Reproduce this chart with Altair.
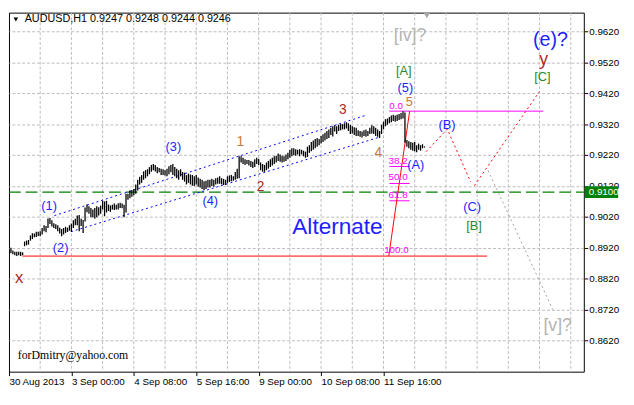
import altair as alt
import pandas as pd

# ---------------- data ----------------
# H1 bars, index 0 = 30 Aug 2013 16:00 ; prices in pips (1/10000)
bar_high = [8920, 8911, 8907, 8907, 8907, 8907, 8905, 8940, 8943, 8945,
            8960, 8967, 8966, 8972, 8972, 8973, 8984, 8993, 8990, 9015,
            9016, 9009, 8999, 8996, 8993, 8985, 8981, 8984, 8988, 8985,
            8993, 8998, 9009, 9014, 9024, 9026, 9014, 9010, 9050, 9060,
            9054, 9049, 9044, 9049, 9054, 9051, 9057, 9072, 9070, 9072,
            9060, 9057, 9059, 9063, 9059, 9064, 9066, 9063, 9059, 9095,
            9095, 9105, 9107, 9110, 9125, 9140, 9150, 9155, 9167, 9171,
            9174, 9181, 9188, 9191, 9188, 9181, 9178, 9176, 9174, 9171,
            9176, 9184, 9188, 9191, 9181, 9176, 9171, 9174, 9165, 9163,
            9155, 9160, 9157, 9155, 9151, 9155, 9147, 9143, 9140, 9135,
            9137, 9140, 9140, 9143, 9140, 9145, 9147, 9151, 9145, 9143,
            9140, 9151, 9154, 9155, 9151, 9165, 9176, 9216, 9216, 9211,
            9206, 9204, 9204, 9201, 9198, 9206, 9211, 9208, 9196, 9191,
            9188, 9196, 9201, 9206, 9211, 9216, 9218, 9225, 9222, 9218,
            9216, 9222, 9227, 9237, 9242, 9242, 9239, 9237, 9239, 9237,
            9234, 9231, 9247, 9252, 9262, 9267, 9272, 9275, 9272, 9282,
            9287, 9292, 9298, 9303, 9308, 9313, 9316, 9313, 9318, 9320,
            9320, 9323, 9326, 9323, 9318, 9313, 9310, 9308, 9300, 9298,
            9296, 9300, 9303, 9298, 9308, 9316, 9313, 9308, 9303, 9298,
            9318, 9328, 9336, 9338, 9343, 9348, 9350, 9348, 9350, 9353,
            9356, 9362, 9358, 9269, 9265, 9262, 9260, 9262, 9252, 9257,
            9252, 9255, 9248]
bar_low = [8902, 8899, 8896, 8893, 8896, 8893, 8896, 8925, 8928, 8930,
           8943, 8948, 8954, 8955, 8958, 8957, 8963, 8973, 8970, 8984,
           8997, 8989, 8984, 8981, 8973, 8966, 8957, 8963, 8968, 8971,
           8975, 8971, 8984, 8993, 8993, 8973, 8990, 8968, 9005, 9035,
           9030, 9019, 9019, 9014, 9019, 9024, 9030, 9044, 9022, 9034,
           9039, 9036, 9044, 9042, 9044, 9044, 9049, 9048, 9019, 9034,
           9075, 9080, 9085, 9090, 9095, 9105, 9125, 9130, 9140, 9145,
           9151, 9158, 9166, 9171, 9167, 9161, 9164, 9155, 9155, 9154,
           9151, 9158, 9164, 9155, 9151, 9145, 9140, 9151, 9140, 9134,
           9125, 9130, 9125, 9121, 9120, 9125, 9117, 9115, 9110, 9107,
           9110, 9115, 9115, 9120, 9117, 9125, 9127, 9127, 9125, 9123,
           9123, 9130, 9133, 9135, 9137, 9140, 9143, 9145, 9196, 9191,
           9188, 9191, 9186, 9181, 9178, 9181, 9191, 9188, 9171, 9166,
           9166, 9171, 9176, 9181, 9186, 9191, 9196, 9201, 9198, 9196,
           9198, 9201, 9206, 9211, 9216, 9220, 9218, 9222, 9216, 9222,
           9216, 9211, 9214, 9227, 9232, 9237, 9242, 9247, 9252, 9257,
           9262, 9267, 9272, 9275, 9285, 9280, 9296, 9288, 9298, 9300,
           9303, 9303, 9306, 9298, 9288, 9290, 9285, 9282, 9282, 9279,
           9277, 9282, 9279, 9282, 9288, 9290, 9288, 9282, 9279, 9275,
           9288, 9303, 9313, 9318, 9323, 9326, 9330, 9328, 9330, 9333,
           9336, 9338, 9260, 9247, 9242, 9237, 9234, 9232, 9229, 9237,
           9234, 9242, 9244]
bar_index = list(range(1, len(bar_high) + 1))

# axis ticks
x_tick_values = [0, 32, 64, 96, 128, 160, 192]
x_tick_labels = ["30 Aug 2013", "3 Sep 00:00", "4 Sep 08:00", "5 Sep 16:00",
                 "9 Sep 00:00", "10 Sep 08:00", "11 Sep 16:00"]
x_grid_values = [16, 32, 48, 64, 80, 96, 112, 128, 144, 160, 176, 192, 208,
                 224, 240, 256, 272, 288]
y_tick_values = [0.8620, 0.8720, 0.8820, 0.8920, 0.9020, 0.9120, 0.9220,
                 0.9320, 0.9420, 0.9520, 0.9620]

# line objects (bar index, price)
blue_channel = {"upper": [(23.3, 0.9024), (183.1, 0.9349)],
                "lower": [(31.8, 0.8972), (190.5, 0.9279)]}
red_dotted = {"ab": [(213.8, 0.9231), (224.7, 0.9304), (236.7, 0.9133)],
              "cy": [(238.6, 0.9121), (271.9, 0.9425)]}
gray_dotted = {"v": [(245.6, 0.9170), (278.8, 0.8720)]}
fib_diag = {"f": [(194.7, 0.8893), (205.4, 0.9362)]}
red_level = {"x": [(6.9, 0.8893), (245.1, 0.8893)]}
magenta_level = {"top": [(195.0, 0.9362), (273.9, 0.9362)],
                 "f382": [(195.0, 0.9183), (205.4, 0.9183)],
                 "f500": [(195.0, 0.9128), (205.4, 0.9128)],
                 "f618": [(195.0, 0.9072), (205.4, 0.9072)]}
green_level = 0.9100

fib_text = ["0.0", "38.2", "50.0", "61.8", "100.0"]
fib_text_x = [202.0, 204.4, 204.4, 204.4, 204.9]
fib_text_y = [0.9380, 0.9202, 0.9149, 0.9091, 0.8911]

BLUE = "#1e1eff"
ORANGE = "#c8783c"
DRED = "#b02828"
GREEN = "#2a8a2a"
GRAY = "#b4b4b4"
wave_text = ["(1)", "(2)", "(3)", "(4)", "1", "2", "3", "4", "5", "(5)", "[A]",
             "[iv]?", "(A)", "(B)", "(C)", "[B]", "(e)?", "y", "[C]", "[v]?",
             "x", "Alternate"]
wave_x = [20.6, 26.5, 84.3, 103.2, 118.6, 129.0, 171.2, 189.3, 205.2, 203.2,
          202.4, 205.6, 208.6, 224.5, 237.4, 238.4, 277.6, 274.1, 273.4, 281.3,
          5.2, 168.4]
wave_y = [0.9054, 0.8920, 0.9246, 0.9072, 0.9261, 0.9117, 0.9366, 0.9225,
          0.9390, 0.9436, 0.9492, 0.9606, 0.9187, 0.9317, 0.9051, 0.8989,
          0.9593, 0.9526, 0.9471, 0.8665, 0.8823, 0.8987]
wave_color = [BLUE, BLUE, BLUE, BLUE, ORANGE, DRED, DRED, ORANGE, ORANGE, BLUE,
              GREEN, GRAY, BLUE, BLUE, BLUE, GREEN, BLUE, DRED, GREEN, GRAY,
              DRED, BLUE]
wave_size = [13, 13, 13, 13, 14, 14, 14, 14, 13, 13, 13, 18, 13, 13, 13, 13,
             20, 18, 13, 18, 17, 23]

header = "AUDUSD,H1  0.9247 0.9248 0.9244 0.9246"
email = "forDmitry@yahoo.com"

# ---------------- chart ----------------
W, H = 586, 366
xs = alt.Scale(domain=[0, 294.7], nice=False, zero=False)
ys = alt.Scale(domain=[0.8519, 0.96808], nice=False, zero=False)
FONT = "Liberation Sans"

label_expr = " : ".join(
    f"datum.value == {v} ? '{t}'" for v, t in zip(x_tick_values, x_tick_labels)
) + " : ''"

XAX = alt.Axis(values=x_tick_values, labelExpr=label_expr, grid=False, title=None,
               labelAlign="left", labelOverlap=False, labelFlush=False,
               tickSize=4, tickColor="black", domain=False,
               labelFont=FONT, labelFontSize=10, labelColor="black",
               labelPadding=1)
YAX = alt.Axis(orient="right", values=y_tick_values, format=".4f", title=None,
               grid=True, gridColor="#bcbcbc", gridDash=[3, 2],
               tickSize=4, tickColor="black", domain=False,
               labelFont=FONT, labelFontSize=10, labelColor="black",
               labelPadding=1, labelBaseline="middle", labelOverlap=False)


def X(f):
    return alt.X(f, scale=xs, axis=XAX)


def Y(f):
    return alt.Y(f, scale=ys, axis=YAX)


def seg_df(d):
    rows = []
    for k, pts in d.items():
        for o, (x, y) in enumerate(pts):
            rows.append({"seg": k, "o": o, "x": x, "y": y})
    return pd.DataFrame(rows)


def lines(d, color, dash=None, width=1.0):
    kw = dict(color=color, strokeWidth=width)
    if dash:
        kw["strokeDash"] = dash
    return alt.Chart(seg_df(d)).mark_line(**kw).encode(
        x=X("x:Q"), y=Y("y:Q"), detail="seg:N", order="o:Q")


bars_df = pd.DataFrame({"i": bar_index,
                        "hi": [h / 10000 for h in bar_high],
                        "lo": [l / 10000 for l in bar_low]})

bars = alt.Chart(bars_df).mark_rule(color="black", strokeWidth=1.3).encode(
    x=X("i:Q"), y=Y("hi:Q"), y2="lo:Q")

vgrid = alt.Chart(pd.DataFrame({"g": x_grid_values})).mark_rule(
    color="#bcbcbc", strokeDash=[3, 2], strokeWidth=1).encode(
    x=X("g:Q"), y=alt.value(0), y2=alt.value(H))

green_line = alt.Chart(pd.DataFrame({"p": [green_level]})).mark_rule(
    color="#008000", strokeDash=[12, 5], strokeWidth=1.5).encode(
    y=Y("p:Q"), x=alt.value(0), x2=alt.value(W))

green_box = alt.Chart(pd.DataFrame({"p": [green_level]})).mark_rule(
    color="#008000", strokeWidth=12).encode(
    y=Y("p:Q"), x=alt.value(W + 1), x2=alt.value(W + 35))
green_box_text = alt.Chart(pd.DataFrame({"p": [green_level], "t": ["0.9100"]})).mark_text(
    color="white", font=FONT, fontSize=10, align="left", baseline="middle").encode(
    y=Y("p:Q"), x=alt.value(W + 5), text="t:N")

wave_df = pd.DataFrame({"t": wave_text, "x": wave_x, "y": wave_y,
                        "c": wave_color, "s": wave_size})
wave = alt.Chart(wave_df).mark_text(font=FONT, align="center", baseline="middle").encode(
    x=X("x:Q"), y=Y("y:Q"),
    text="t:N", color=alt.Color("c:N", scale=None), size=alt.Size("s:Q", scale=None))

fib_df = pd.DataFrame({"t": fib_text, "x": fib_text_x, "y": fib_text_y})
fib_labels = alt.Chart(fib_df).mark_text(
    font=FONT, fontSize=10, color="#ff00ff", align="right", baseline="middle").encode(
    x=X("x:Q"), y=Y("y:Q"), text="t:N")

hdr = alt.Chart(pd.DataFrame({"t": [header]})).mark_text(
    font=FONT, fontSize=11, color="black", align="left", baseline="middle").encode(
    x=alt.value(16), y=alt.value(7), text="t:N")
hdr_tri = alt.Chart(pd.DataFrame({"t": [header]})).mark_point(
    shape="triangle-down", filled=True, color="black", size=22, opacity=1).encode(
    x=alt.value(7), y=alt.value(7))
shift_tri = alt.Chart(pd.DataFrame({"t": [header]})).mark_point(
    shape="triangle-down", filled=True, color="#a8a8a8", size=40, opacity=1).encode(
    x=alt.value(426), y=alt.value(3))

mail = alt.Chart(pd.DataFrame({"t": [email], "x": [4.5], "y": [0.8573]})).mark_text(
    font="Liberation Serif", fontSize=12, color="black", align="left",
    baseline="middle").encode(x=X("x:Q"), y=Y("y:Q"), text="t:N")

chart = alt.layer(
    vgrid, green_line,
    lines(blue_channel, "#0000ff", dash=[2, 3]),
    lines(red_level, "#ff0000"),
    lines(magenta_level, "#ff00ff"),
    lines(fib_diag, "#ff0000"),
    lines(red_dotted, "#ff0000", dash=[2, 3]),
    lines(gray_dotted, "#a0a0a0", dash=[2, 3]),
    bars,
    green_box, green_box_text,
    wave, fib_labels, hdr, hdr_tri, shift_tri, mail,
).properties(
    width=W, height=H, padding={"left": 0, "top": 0, "right": 2, "bottom": 2},
    background="white"
).configure_view(stroke="black", strokeWidth=1)

chart.save("out.html", embed_options={"renderer": "svg", "actions": False})
